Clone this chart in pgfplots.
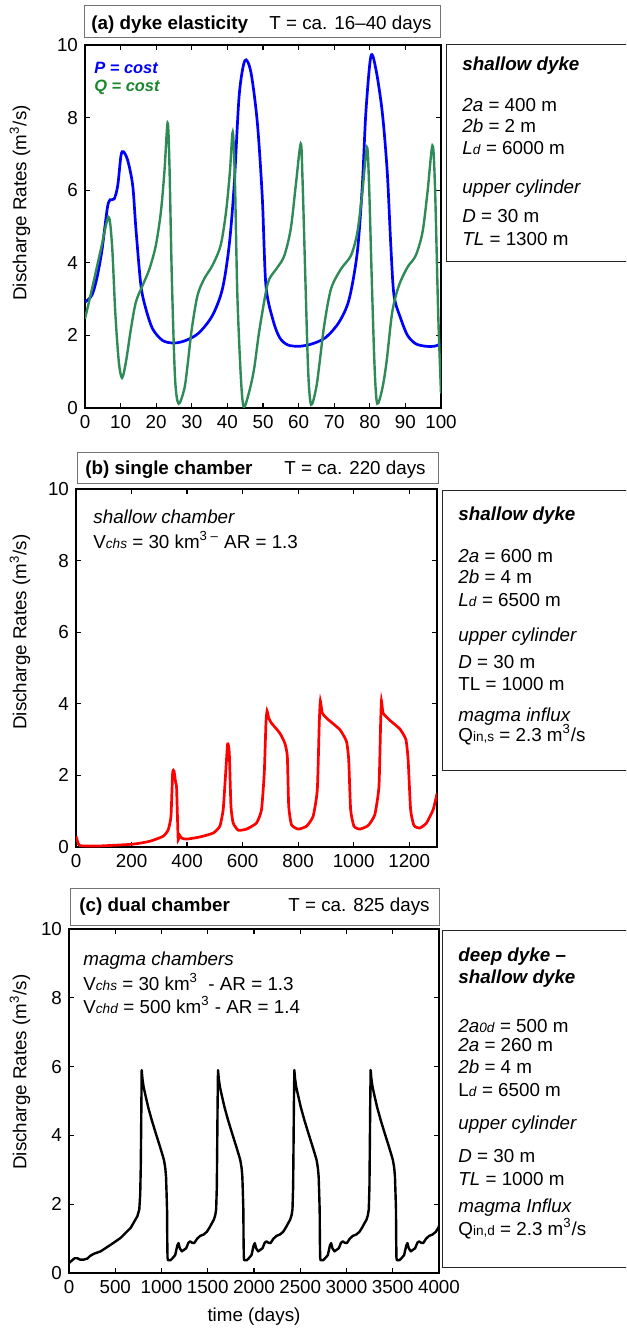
\documentclass[border=0pt]{standalone}
\usepackage{fontspec}
\setmainfont{Liberation Sans}
\usepackage{pgfplots}
\pgfplotsset{compat=1.18}

\definecolor{pblue}{RGB}{0,0,255}
\definecolor{qgreen}{RGB}{46,139,87}
\definecolor{qtext}{RGB}{25,135,45}
\definecolor{boxgray}{RGB}{115,115,115}

\newcommand{\fs}{\fontsize{9.4}{11}\selectfont}
\newcommand{\sub}[1]{{\fontsize{6.8}{7}\selectfont #1}}

\pgfplotsset{
  dis/.style={
    scale only axis,
    anchor=north west,
    ymin=0, ymax=10,
    ytick={0,2,...,10},
    tick align=inside,
    major tick length=2.5pt,
    axis line style={line width=0.8pt},
    every tick/.style={black, line width=0.6pt},
    tick label style={font=\fs},
    /pgf/number format/assume math mode=true,
    /pgf/number format/1000 sep={},
  }
}

\begin{document}
\begin{tikzpicture}
\useasboundingbox (0,0) rectangle (313pt,-665.5pt);
\clip (0,0) rectangle (313pt,-665.5pt);

% (a) dyke elasticity
\begin{axis}[dis, at={(42.5pt,-22.5pt)}, width=178pt, height=181.5pt,
  xmin=0, xmax=100, xtick={0,10,...,100}]
\addplot[pblue, line width=1.35pt, smooth, tension=0.5] coordinates {
  (0,2.92)(1.9,3.1)(3.3,3.56)(4.7,4.3)(5.6,5.0)(6.4,5.58)(7.1,5.74)(8.2,5.76)
  (9.2,6.13)(10.1,6.95)(10.8,7.06)(12,6.82)(13.4,6.13)(14.3,4.94)(15.7,3.38)
  (17.1,2.73)(19,2.18)(21.8,1.86)(25,1.79)(28.3,1.86)(32,2.07)(35.8,2.55)
  (38.6,3.28)(40.5,4.48)(41.9,6.13)(43.3,8.6)(44.9,9.57)(46.6,9.25)(48.4,7.87)
  (49.8,5.8)(50.8,3.4)(52.7,2.46)(54.6,1.95)(56.9,1.74)(60.2,1.70)(63.9,1.77)
  (67.7,1.95)(71.4,2.37)(74.2,3.0)(76.5,4.3)(77.9,6.13)(78.9,8.15)(80.3,9.69)
  (81.7,9.34)(83.5,8.15)(84.9,6.5)(85.9,4.48)(86.8,3.1)(88.7,2.46)(90.6,2.0)
  (92.9,1.77)(95.7,1.70)(98,1.70)(100,1.76)
};
\addplot[qgreen, line width=1.2pt, smooth, tension=0.5] coordinates {
  (0,2.46)(2.2,3.38)(4.5,4.39)(6.6,5.26)(7.6,4.48)(8.5,2.64)(9.5,1.27)(10.4,0.83)
  (11.5,1.27)(12.9,2.18)(14.3,2.92)(16.2,3.38)(18.1,3.83)(19.9,4.48)(21.3,5.39)
  (22.3,6.5)(23.2,7.85)(23.7,6.77)(24.4,3.56)(25.3,0.81)(26.3,0.12)(27.9,0.53)
  (28.8,1.17)(30,2.18)(31.6,3.1)(33.5,3.56)(35.8,3.93)(38.1,4.48)(39.6,5.39)
  (40.7,6.5)(41.5,7.6)(42.1,6.3)(42.8,3.1)(43.8,0.81)(44.6,0.03)(46.1,0.44)
  (47.5,1.08)(48.9,2.09)(50.8,3.19)(51.8,3.56)(54.1,3.88)(56,4.2)(57.8,4.94)
  (59.2,6.13)(60.6,7.28)(61.1,6.3)(61.9,3.56)(62.7,0.99)(63.5,0.09)(64.9,0.53)
  (65.8,1.17)(67.2,2.28)(69.1,3.28)(71.9,3.83)(74.7,4.2)(76.5,4.84)(77.9,5.94)
  (79.2,7.18)(79.8,6.13)(80.6,3.38)(81.4,0.99)(82.1,0.12)(83.5,0.53)(84.7,1.27)
  (86.3,2.64)(88.2,3.38)(90.6,3.88)(92.9,4.2)(94.8,4.84)(96.2,5.94)(97.6,7.23)
  (98.3,6.13)(99.2,2.64)(100,0.4)
};
\end{axis}

% (b) single chamber
\begin{axis}[dis, at={(38pt,-244.5pt)}, width=180.5pt, height=179pt,
  xmin=0, xmax=1300, xtick={0,200,...,1200}]
\addplot[red, line width=1.35pt, smooth, tension=0.3] coordinates {
  (0,0.3)(2,0.25)(14,0.04)(86,0.03)(206,0.08)(266,0.16)(314,0.30)(332,0.48)
  (342,0.86)(348,2.07)(353,2.12)(359,1.79)(362,1.69)(366,0.67)(368,0.2)(372,0.34)
  (380,0.25)(398,0.22)(446,0.28)(494,0.39)(518,0.58)(530,1.04)(539,2.07)(546,2.88)
  (552,2.63)(558,1.14)(566,0.67)(584,0.47)(614,0.5)(650,0.67)(668,1.04)(678,2.07)
  (684,3.46)(688,3.8)(694,3.6)(704,3.46)(734,3.18)(752,2.9)(761,2.53)(766,1.14)
  (776,0.62)(800,0.5)(830,0.58)(854,0.86)(869,1.6)(876,3.46)(880,4.08)(887,3.74)
  (908,3.56)(950,3.28)(974,2.95)(982,2.44)(989,1.04)(1001,0.58)(1022,0.5)(1052,0.6)
  (1076,0.9)(1091,1.69)(1097,3.46)(1100,4.08)(1106,3.74)(1130,3.54)(1166,3.3)
  (1188,3.0)(1196,2.44)(1205,1.04)(1217,0.6)(1238,0.53)(1262,0.67)(1286,1.04)
  (1300,1.49)
};
\end{axis}

% (c) dual chamber
\begin{axis}[dis, at={(34.5pt,-464.5pt)}, width=185pt, height=172pt,
  xmin=0, xmax=4000, xtick={0,500,...,4000}]
\addplot[black, line width=1.2pt, line join=round] coordinates {
  (0,0.29)(30,0.36)(60,0.43)(90,0.43)(120,0.39)(160,0.39)(198,0.42)(230,0.5)
  (270,0.56)(342,0.63)(450,0.82)(558,1.02)(666,1.31)(739,1.65)(760,1.85)
  (770,2.3)(776,3.1)(780,4.2)
  (786,5.9)(794,5.65)(806,5.42)(822,5.22)(856,4.82)(894,4.45)(936,4.08)(984,3.67)
  (1011,3.43)(1027,3.28)(1041,3.05)(1049,2.8)(1055,2.3)(1060,1.83)(1062,1.0)
  (1065,0.45)(1070,0.37)(1096,0.37)(1116,0.42)(1148,0.52)(1171,0.8)(1184,0.87)
  (1198,0.72)(1220,0.63)(1241,0.67)(1267,0.72)(1291,0.88)(1310,0.92)(1331,0.88)
  (1354,0.87)(1386,1.0)(1419,1.08)(1456,1.12)(1491,1.2)(1521,1.33)(1545,1.45)
  (1566,1.55)(1581,1.68)(1591,1.85)(1598,2.5)(1602,3.6)(1606,4.8)
  (1611,5.9)(1619,5.65)(1631,5.42)(1647,5.22)(1681,4.82)(1719,4.45)(1761,4.08)
  (1809,3.67)(1836,3.43)(1852,3.28)(1866,3.05)(1874,2.8)(1880,2.3)(1885,1.83)
  (1887,1.0)(1890,0.45)(1895,0.37)(1921,0.37)(1941,0.42)(1973,0.52)(1996,0.8)
  (2009,0.87)(2023,0.72)(2045,0.63)(2066,0.67)(2092,0.72)(2116,0.88)(2135,0.92)
  (2156,0.88)(2179,0.87)(2211,1.0)(2244,1.08)(2281,1.12)(2316,1.2)(2346,1.33)
  (2370,1.45)(2391,1.55)(2406,1.68)(2416,1.85)(2423,2.5)(2427,3.6)(2431,4.8)
  (2436,5.9)(2444,5.65)(2456,5.42)(2472,5.22)(2506,4.82)(2544,4.45)(2586,4.08)
  (2634,3.67)(2661,3.43)(2677,3.28)(2691,3.05)(2699,2.8)(2705,2.3)(2710,1.83)
  (2712,1.0)(2715,0.45)(2720,0.37)(2746,0.37)(2766,0.42)(2798,0.52)(2821,0.8)
  (2834,0.87)(2848,0.72)(2870,0.63)(2891,0.67)(2917,0.72)(2941,0.88)(2960,0.92)
  (2981,0.88)(3004,0.87)(3036,1.0)(3069,1.08)(3106,1.12)(3141,1.2)(3171,1.33)
  (3195,1.45)(3216,1.55)(3231,1.68)(3241,1.85)(3248,2.5)(3252,3.6)(3256,4.8)
  (3261,5.9)(3269,5.65)(3281,5.42)(3297,5.22)(3331,4.82)(3369,4.45)(3411,4.08)
  (3459,3.67)(3486,3.43)(3502,3.28)(3516,3.05)(3524,2.8)(3530,2.3)(3535,1.83)
  (3537,1.0)(3540,0.45)(3545,0.37)(3571,0.37)(3591,0.42)(3623,0.52)(3646,0.8)
  (3659,0.87)(3673,0.72)(3695,0.63)(3716,0.67)(3742,0.72)(3766,0.88)(3785,0.92)
  (3806,0.88)(3829,0.87)(3861,1.0)(3894,1.08)(3931,1.12)(3966,1.2)(3996,1.33)
  (4000,1.38)
};
\end{axis}

\begin{scope}[x=0.5pt, y=-0.5pt, font=\fs, every node/.append style={inner sep=0pt}]
% y labels
\node[rotate=90] at (20,203) {Discharge Rates (m\textsuperscript{3}/s)};
\node[rotate=90] at (20,632) {Discharge Rates (m\textsuperscript{3}/s)};
\node[rotate=90] at (20,1072) {Discharge Rates (m\textsuperscript{3}/s)};
\node at (254,1317) {time (days)};

% title boxes
\draw[boxgray, line width=0.5pt] (84,6) rectangle (440,38);
\node[anchor=base west] at (91,30) {\textbf{(a) dyke elasticity}};
\node[anchor=base east] at (432,30) {T = ca. 16–40 days};
\draw[boxgray, line width=0.5pt] (77,452) rectangle (438,483);
\node[anchor=base west] at (85,474) {\textbf{(b) single chamber}};
\node[anchor=base east] at (426,474) {T = ca. 220 days};
\draw[boxgray, line width=0.5pt] (70,888) rectangle (439,925);
\node[anchor=base west] at (79,911) {\textbf{(c) dual chamber}};
\node[anchor=base east] at (430,911) {T = ca. 825 days};

% legend of (a)
\node[anchor=base west, text=pblue, font=\fontsize{8.2}{9}\selectfont\bfseries\itshape] at (94,74) {P = cost};
\node[anchor=base west, text=qtext, font=\fontsize{8.2}{9}\selectfont\bfseries\itshape] at (94,92) {Q = cost};

% in-axis notes
\node[anchor=base west] at (93,523) {\textit{shallow chamber}};
\node[anchor=base west] at (93,548) {V\sub{\textit{chs}} = 30 km\textsuperscript{3 –} AR = 1.3};
\node[anchor=base west] at (83,965) {\textit{magma chambers}};
\node[anchor=base west] at (83,990) {V\sub{\textit{chs}} = 30 km\textsuperscript{3}\ \ - AR = 1.3};
\node[anchor=base west] at (83,1013) {V\sub{\textit{chd}} = 500 km\textsuperscript{3} - AR = 1.4};

% info box (a)
\draw[black!85, line width=0.5pt] (446,45) rectangle (650,262);
\begin{scope}[every node/.append style={anchor=base west}]
\node at (462,71) {\textbf{\textit{shallow dyke}}};
\node at (462,112) {\textit{2a} = 400 m};
\node at (462,133) {\textit{2b} = 2 m};
\node at (462,155) {\textit{L}\sub{\textit{d}} = 6000 m};
\node at (462,194) {\textit{upper cylinder}};
\node at (462,223) {\textit{D} = 30 m};
\node at (462,246) {\textit{TL} = 1300 m};
\end{scope}

% info box (b)
\draw[black!85, line width=0.5pt] (442,490) rectangle (650,770);
\begin{scope}[every node/.append style={anchor=base west}]
\node at (458,520) {\textbf{\textit{shallow dyke}}};
\node at (458,562) {\textit{2a} = 600 m};
\node at (458,583) {\textit{2b} = 4 m};
\node at (458,606) {\textit{L}\sub{\textit{d}} = 6500 m};
\node at (458,641) {\textit{upper cylinder}};
\node at (458,668) {\textit{D} = 30 m};
\node at (458,690) {TL = 1000 m};
\node at (458,721) {\textit{magma influx}};
\node at (458,741) {Q\sub{in,s} = 2.3 m\textsuperscript{3}/s};
\end{scope}

% info box (c)
\draw[black!85, line width=0.5pt] (442,930) rectangle (650,1267);
\begin{scope}[every node/.append style={anchor=base west}]
\node at (458,961) {\textbf{\textit{deep dyke –}}};
\node at (458,983) {\textbf{\textit{shallow dyke}}};
\node at (458,1032) {\textit{2a}\sub{\textit{0d}} = 500 m};
\node at (458,1051) {\textit{2a} = 260 m};
\node at (458,1073) {\textit{2b} = 4 m};
\node at (458,1096) {L\sub{\textit{d}} = 6500 m};
\node at (458,1129) {\textit{upper cylinder}};
\node at (458,1162) {\textit{D} = 30 m};
\node at (458,1185) {\textit{TL} = 1000 m};
\node at (458,1212) {\textit{magma Influx}};
\node at (458,1235) {Q\sub{in,d} = 2.3 m\textsuperscript{3}/s};
\end{scope}
\end{scope}
\end{tikzpicture}
\end{document}
